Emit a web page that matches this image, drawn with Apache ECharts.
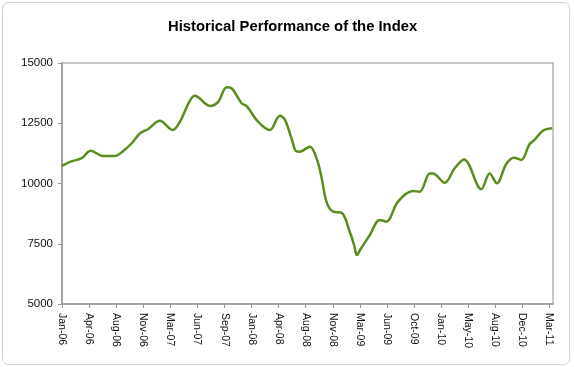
<!DOCTYPE html>
<html>
<head>
<meta charset="utf-8">
<script src="https://cdn.jsdelivr.net/npm/echarts@6/dist/echarts.min.js"></script>
<style>
html,body{margin:0;padding:0;background:#fff;}
#chart{width:574px;height:367px;}
</style>
</head>
<body>
<div id="chart"></div>
<script>
// Tick labels, one every 15 weeks starting Jan-06
const tickLabels = ['Jan-06','Apr-06','Aug-06','Nov-06','Mar-07','Jun-07','Sep-07','Jan-08','Apr-08','Aug-08','Nov-08','Mar-09','Jun-09','Oct-09','Jan-10','May-10','Aug-10','Dec-10','Mar-11'];
const weeksPerTick = 15;
const weeks = [0,4.4,10.9,15.9,22.7,29.3,33.8,38.6,43.2,47.6,54.2,61.4,65.3,70.8,73.6,81.9,86.5,91.2,93.9,99.5,102.2,108.7,115.1,120.7,123.4,127.1,129.9,131.7,137.3,141,143.7,146.5,150.2,154.8,159.4,161.8,163.4,165.2,170.5,176,179.7,186.1,194.4,198.2,203.7,205.5,212,217.5,222.7,232.3,236.9,240.9,246.1,250.4,254.4,259,261.8,266.4,271.6];
const values = [10730,10900,11050,11360,11140,11140,11340,11670,12080,12250,12600,12220,12560,13430,13640,13220,13390,13990,13950,13330,13220,12560,12220,12810,12660,11880,11330,11320,11530,11050,10280,9250,8830,8790,8000,7450,7030,7250,7860,8490,8420,9250,9690,9660,10420,10420,10030,10630,11000,9760,10420,10010,10810,11070,10980,11630,11810,12190,12290];
const yTicks = [5000,7500,10000,12500,15000];

const chart = echarts.init(document.getElementById('chart'), null, {renderer:'canvas'});
const tickValues = tickLabels.map((_, i) => i * weeksPerTick);
chart.setOption({
  animation: false,
  backgroundColor: '#fff',
  title: {
    text: 'Historical Performance of the Index',
    left: 163, top: 14,
    textStyle: {fontFamily: 'Liberation Sans, Arial, sans-serif', fontSize: 14.8, fontWeight: 'bold', color: '#000'}
  },
  graphic: [{
    type: 'rect', silent: true, z: -1,
    shape: {x: 2.5, y: 2.5, width: 567, height: 362, r: 6},
    style: {fill: 'none', stroke: '#d4d4d4', lineWidth: 1}
  }],
  grid: {
    left: 62, right: 21, top: 63, bottom: 63,
    show: true, borderColor: '#b4b4b4', borderWidth: 1.5, backgroundColor: '#fff'
  },
  xAxis: {
    type: 'value', min: 0, max: 272,
    splitLine: {show: false},
    axisLine: {show: true, lineStyle: {color: '#9a9a9a', width: 1.5}},
    axisTick: {show: true, length: 4, customValues: tickValues, lineStyle: {color: '#9a9a9a'}},
    axisLabel: {
      customValues: tickValues,
      rotate: -90, margin: 9,
      fontFamily: 'Liberation Sans, Arial, sans-serif', fontSize: 10.5, color: '#111',
      formatter: v => tickLabels[Math.round(v / weeksPerTick)] || ''
    }
  },
  yAxis: {
    type: 'value', min: yTicks[0], max: yTicks[yTicks.length - 1], interval: 2500,
    splitLine: {show: false},
    axisLine: {show: true, lineStyle: {color: '#9a9a9a', width: 1.5}},
    axisTick: {show: true, length: 4, lineStyle: {color: '#9a9a9a'}},
    axisLabel: {margin: 9, fontFamily: 'Liberation Sans, Arial, sans-serif', fontSize: 11.5, color: '#111',
      formatter: v => String(v)}
  },
  series: [{
    type: 'line',
    data: weeks.map((w, i) => [w, values[i]]),
    smooth: 0.35,
    showSymbol: false,
    lineStyle: {color: '#5b8c1e', width: 2.5}
  }]
});
</script>
</body>
</html>
